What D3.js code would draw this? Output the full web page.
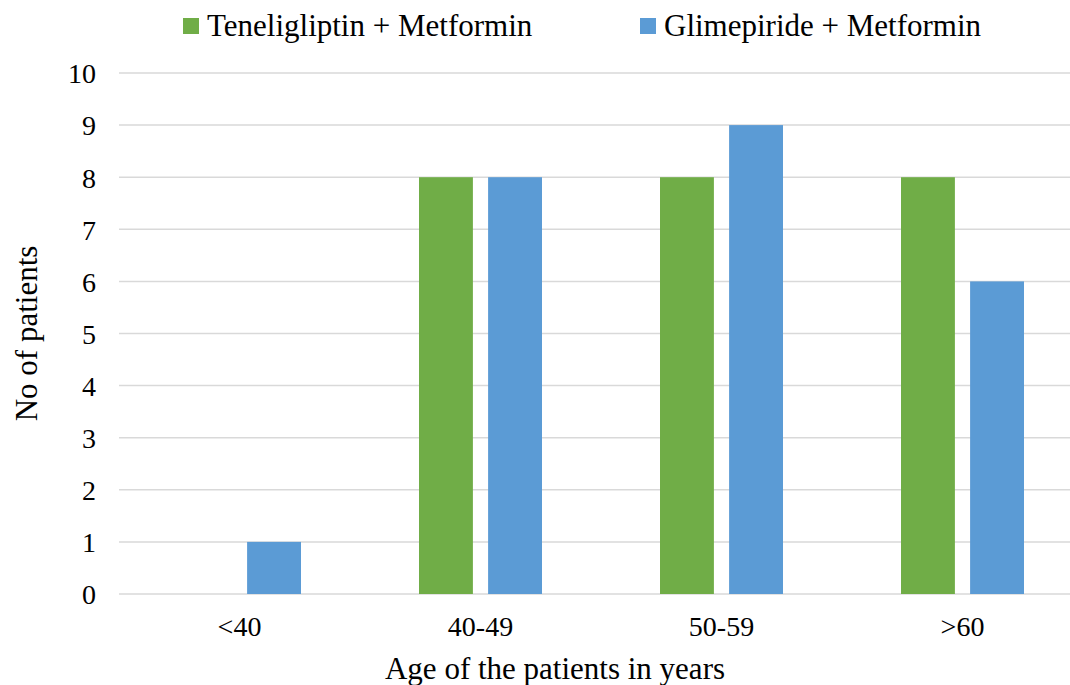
<!DOCTYPE html>
<html>
<head>
<meta charset="utf-8">
<script src="https://cdn.jsdelivr.net/npm/d3@7"></script>
<style>
	body { margin: 0; background: #fff; }
	svg text { font-family: 'Liberation Serif', 'Times New Roman', 'DejaVu Serif', serif !important; fill: #000; }
</style>
</head>
<body>
<div id="chart"></div>
<script>
// data
var ageGroups = ["<40", "40-49", "50-59", ">60"];
var teneligliptin = [0, 8, 8, 8];
var glimepiride = [1, 8, 9, 6];
var seriesNames = ["Teneligliptin + Metformin", "Glimepiride + Metformin"];
var seriesColors = ["#70AD47", "#5B9BD5"];
var yTicks = [0, 1, 2, 3, 4, 5, 6, 7, 8, 9, 10];

var width = 1070, height = 685;
var margin = { top: 73, left: 119, bottom: 91 };
var plotW = 964; // extends past the right edge like the original
var plotH = height - margin.top - margin.bottom;

var svg = d3.select("#chart").append("svg")
	.attr("width", width)
	.attr("height", height);

var g = svg.append("g")
	.attr("transform", "translate(" + margin.left + "," + margin.top + ")");

//Scales
var x = d3.scaleBand()
	.domain(ageGroups)
	.range([0, plotW]);

var x1 = d3.scaleBand()
	.domain([0, 1])
	.range([59, x.bandwidth() - 59])
	.paddingInner(0.22);

var y = d3.scaleLinear()
	.domain([0, 10])
	.range([plotH, 0]);

//gridlines
g.append("g")
	.selectAll("line")
	.data(yTicks)
	.enter()
	.append("line")
	.attr("x1", 0)
	.attr("x2", plotW)
	.attr("y1", function(d) { return y(d); })
	.attr("y2", function(d) { return y(d); })
	.attr("stroke", "#D9D9D9")
	.attr("stroke-width", 1.5);

//y axis labels
var yAxis = g.append("g")
	.call(d3.axisLeft(y).tickValues(yTicks).tickSize(0).tickPadding(23));
yAxis.attr("font-family", null);
yAxis.select(".domain").remove();
yAxis.selectAll("text")
	.style("font-size", "28px")
	.attr("dy", "0.35em");

//x axis labels
var xAxis = g.append("g")
	.attr("transform", "translate(0," + plotH + ")")
	.call(d3.axisBottom(x).tickSize(0).tickPadding(22));
xAxis.attr("font-family", null);
xAxis.select(".domain").remove();
xAxis.selectAll("text")
	.style("font-size", "28px");

//bars
var series = [teneligliptin, glimepiride];
series.forEach(function(vals, si) {
	g.append("g")
		.selectAll("rect")
		.data(vals)
		.enter()
		.append("rect")
		.attr("x", function(d, i) { return x(ageGroups[i]) + x1(si); })
		.attr("y", function(d) { return y(d); })
		.attr("width", x1.bandwidth())
		.attr("height", function(d) { return plotH - y(d); })
		.attr("fill", seriesColors[si]);
});

//axis titles
svg.append("text")
	.attr("transform", "translate(37," + (margin.top + plotH / 2) + ") rotate(-90)")
	.attr("text-anchor", "middle")
	.style("font-size", "31px")
	.text("No of patients");

svg.append("text")
	.attr("x", 555)
	.attr("y", 679)
	.attr("text-anchor", "middle")
	.style("font-size", "31px")
	.text("Age of the patients in years");

//legend
var legendX = [183, 640];
var legend = svg.selectAll(".legend")
	.data(seriesNames)
	.enter()
	.append("g")
	.attr("class", "legend")
	.attr("transform", function(d, i) { return "translate(" + legendX[i] + ",18)"; });
legend.append("rect")
	.attr("width", 16)
	.attr("height", 16)
	.attr("fill", function(d, i) { return seriesColors[i]; });
legend.append("text")
	.attr("x", 24)
	.attr("y", 18)
	.style("font-size", "31px")
	.text(function(d) { return d; });
</script>
</body>
</html>
